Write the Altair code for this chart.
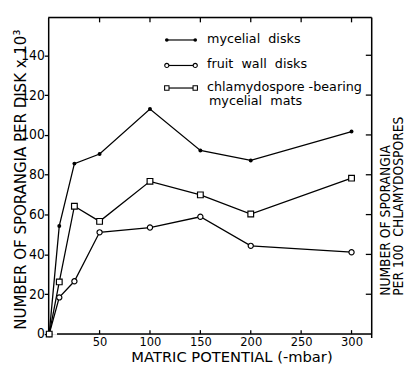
import altair as alt
import pandas as pd

# ---- data ----
matric = [0, 10, 25, 50, 100, 150, 200, 300]
mycelial_disks = [0, 54.3, 85.6, 90.4, 113.0, 92.2, 87.2, 101.7]
fruit_wall_disks = [0, 18.4, 26.5, 51.1, 53.5, 58.9, 44.3, 41.1]
chlamydospore_mats = [0, 26.2, 64.2, 56.6, 76.7, 69.9, 60.3, 78.3]

y_ticks = [0, 20, 40, 60, 80, 100, 120, 140]
x_ticks = [50, 100, 150, 200, 250, 300]
series_names = ["mycelial disks", "fruit wall disks", "chlamydospore-bearing mycelial mats"]

rows = []
for name, vals in zip(series_names, [mycelial_disks, fruit_wall_disks, chlamydospore_mats]):
    for xv, yv in zip(matric, vals):
        rows.append({"x": xv, "y": yv, "series": name})
df = pd.DataFrame(rows)

W, H = 330, 323
FONT = "DejaVu Sans"
CFONT = "DejaVu Sans Condensed, Liberation Sans Narrow, DejaVu Sans"
xs = alt.Scale(domain=[-1, 320], nice=False, zero=False)
ys = alt.Scale(domain=[0, 159], nice=False)

x_axis = alt.Axis(values=x_ticks, ticks=False, tickSize=0, domain=False, grid=False,
                  labelFont=CFONT, labelFontSize=13, labelColor="black", labelPadding=2,
                  title="MATRIC POTENTIAL (-mbar)", titleFont=FONT, titleFontSize=15,
                  titleFontWeight="normal", titleColor="black", titlePadding=1,
                  titleX=187, titleAnchor="middle")
y_axis = alt.Axis(values=y_ticks, tickSize=4, tickColor="black", tickWidth=1.3,
                  domain=True, domainColor="black", domainWidth=1.5, grid=False,
                  labelFont=CFONT, labelFontSize=14, labelColor="black", labelPadding=0,
                  title="NUMBER OF SPORANGIA PER DISK x 10³", titleFont=CFONT,
                  titleFontSize=17, titleFontWeight="normal", titleColor="black",
                  titleX=-23, titleY=165, titleBaseline="alphabetic", titleAnchor="middle")

X = lambda f: alt.X(f, scale=xs, axis=x_axis)
Y = lambda f: alt.Y(f, scale=ys, axis=y_axis)

base = alt.Chart(df)
lines = base.mark_line(color="black", strokeWidth=1.3).encode(
    x=X("x:Q"), y=Y("y:Q"), detail="series:N")

def pts(name, **kw):
    return base.transform_filter(alt.datum.series == name).mark_point(
        color="black", opacity=1, **kw).encode(x=X("x:Q"), y=Y("y:Q"))

p1 = pts(series_names[0], shape="circle", size=16, filled=True)
p2 = pts(series_names[1], shape="circle", size=28, filled=False, fill="white", strokeWidth=1.2)
p3 = pts(series_names[2], shape="square", size=34, filled=False, fill="white", strokeWidth=1.2)

one = alt.Chart(pd.DataFrame({"a": [0]}))

frame = [
    one.mark_rule(color="black", strokeWidth=1.5).encode(x=alt.value(0), x2=alt.value(W), y=alt.value(0)),
    one.mark_rule(color="black", strokeWidth=1.5).encode(x=alt.value(W), y=alt.value(0), y2=alt.value(H + 4)),
    one.mark_rule(color="black", strokeWidth=1.5).encode(x=alt.value(9), x2=alt.value(W), y=alt.value(H)),
]

tdf_x = pd.DataFrame({"x": x_ticks})
tdf_y = pd.DataFrame({"y": y_ticks[1:]})
ticks = [
    alt.Chart(tdf_x).mark_rule(color="black", strokeWidth=1.3).encode(
        x=X("x:Q"), y=alt.value(0), y2=alt.value(5)),
    alt.Chart(tdf_x).mark_rule(color="black", strokeWidth=1.3).encode(
        x=X("x:Q"), y=alt.value(H), y2=alt.value(H - 4)),
    alt.Chart(tdf_y).mark_rule(color="black", strokeWidth=1.3).encode(
        y=Y("y:Q"), x=alt.value(W), x2=alt.value(W - 6)),
]

# ---- legend ----
legend = []
leg_rows = [(23, dict(shape="circle", size=14, filled=True), "mycelial\u00a0\u00a0disks"),
            (49, dict(shape="circle", size=18, filled=False, fill="white", strokeWidth=1.1), "fruit\u00a0\u00a0wall\u00a0\u00a0disks"),
            (72, dict(shape="square", size=20, filled=False, fill="white", strokeWidth=1.1), "chlamydospore -bearing")]
for ly, style, label in leg_rows:
    legend.append(one.mark_rule(color="black", strokeWidth=1.2).encode(
        x=alt.value(121), x2=alt.value(150), y=alt.value(ly)))
    for lx in (121, 150):
        legend.append(one.mark_point(color="black", opacity=1, **style).encode(
            x=alt.value(lx), y=alt.value(ly)))
    legend.append(one.mark_text(text=label, font=FONT, fontSize=13, align="left",
                                baseline="middle", color="black").encode(
        x=alt.value(162), y=alt.value(ly - 1)))
legend.append(one.mark_text(text="mycelial\u00a0\u00a0mats", font=FONT, fontSize=13, align="left",
                            baseline="middle", color="black").encode(
    x=alt.value(164), y=alt.value(85)))

# ---- right-hand title ----
right_title = [
    one.mark_text(text="NUMBER OF SPORANGIA", font=CFONT, fontSize=14, angle=270,
                  align="left", baseline="alphabetic", color="black").encode(
        x=alt.value(349), y=alt.value(284)),
    one.mark_text(text="PER 100\u00a0\u00a0CHLAMYDOSPORES", font=CFONT, fontSize=14, angle=270,
                  align="left", baseline="alphabetic", color="black").encode(
        x=alt.value(362), y=alt.value(284)),
]

chart = alt.layer(lines, p1, p2, p3, *frame, *ticks, *legend, *right_title).properties(
    width=W, height=H,
    autosize=alt.AutoSizeParams(type="none"),
    padding={"left": 41, "top": 6, "right": 35, "bottom": 32},
).configure_view(stroke=None).configure(background="white")

chart.save("out.html", embed_options={"renderer": "svg", "actions": False})
